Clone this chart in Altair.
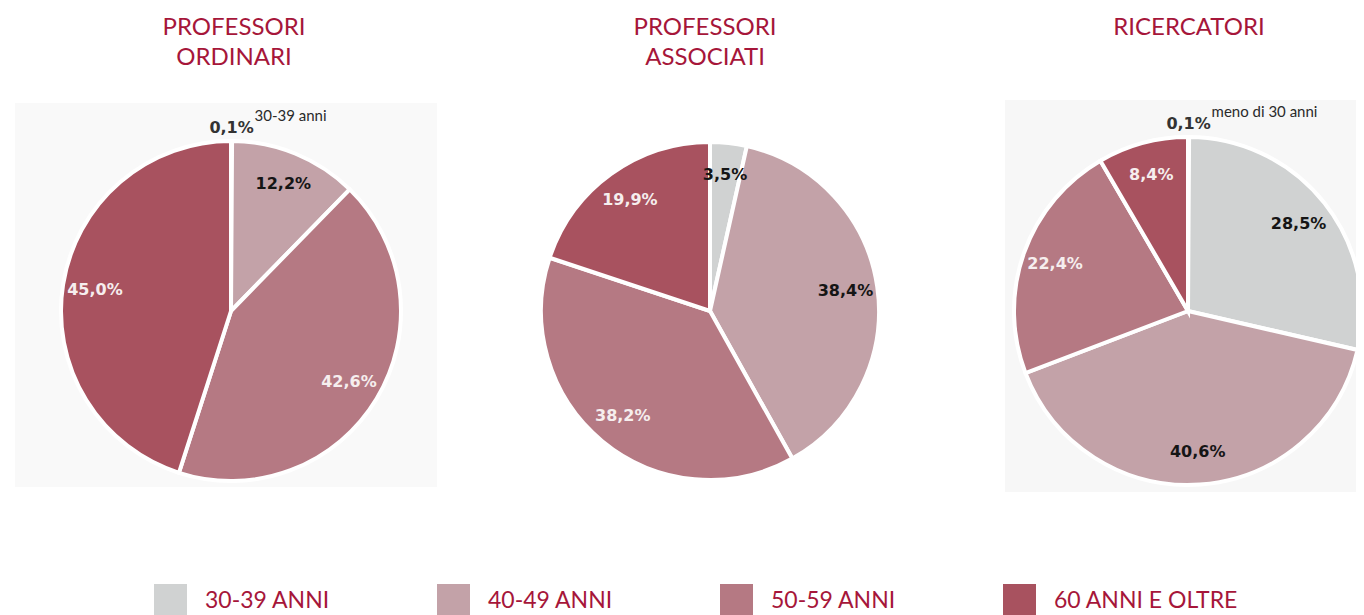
import altair as alt
import pandas as pd

# ---- data ----
categorie = ["meno di 30 anni", "30-39 ANNI", "40-49 ANNI", "50-59 ANNI", "60 ANNI E OLTRE"]
colori = ["#d0d2d2", "#d0d2d2", "#c3a2a8", "#b57983", "#a8525f"]
ordinari = [None, 0.1, 12.2, 42.6, 45.0]
associati = [None, 3.5, 38.4, 38.2, 19.9]
ricercatori = [0.1, 28.5, 40.6, 22.4, 8.4]
titoli = ["PROFESSORI\nORDINARI", "PROFESSORI\nASSOCIATI", "RICERCATORI"]

ROSSO = "#a6163a"

color_scale = alt.Scale(domain=categorie, range=colori)
legenda = alt.Legend(
    orient="none", legendX=146, legendY=576, direction="horizontal", columns=4,
    title=None, symbolType="square", symbolSize=1089, symbolStrokeWidth=0,
    symbolOpacity=1, labelFont="Lato", labelFontSize=23, labelColor=ROSSO,
    labelOffset=18, columnPadding=107, padding=0, values=categorie[1:],
    labelLimit=400,
)


def torta(valori, titolo, cx, cy, r, tx, ty):
    df = pd.DataFrame({"categoria": categorie, "valore": valori, "ordine": list(range(len(categorie)))})
    df = df.dropna().reset_index(drop=True)
    base = alt.Chart(df).transform_calculate(
        etichetta="replace(format(datum.valore, '.1f'), '.', ',') + '%'"
    ).transform_calculate(
        interna="datum.valore >= 1 ? datum.etichetta : ''",
        esterna="datum.valore < 1 ? datum.etichetta : ''",
        nota="datum.valore < 1 ? lower(datum.categoria) : ''",
    ).encode(
        theta=alt.Theta("valore:Q", stack=True),
        order=alt.Order("ordine:Q"),
        x=alt.value(cx),
        y=alt.value(cy),
    )
    arco = base.mark_arc(outerRadius=r, stroke="white", strokeWidth=4).encode(
        color=alt.Color("categoria:N", scale=color_scale, legend=legenda)
    )
    interne = base.mark_text(radius=0.81 * r, font="DejaVu Sans", fontWeight="bold", fontSize=16).encode(
        text="interna:N",
        color=alt.condition("datum.ordine >= 3", alt.value("#f6eeee"), alt.value("#151515")),
    )
    esterne = base.mark_text(radius=r + 13, font="DejaVu Sans", fontWeight="bold", fontSize=16,
                             color="#333333").encode(text="esterna:N")
    note = base.mark_text(radius=r + 13, font="Lato", fontSize=15, color="#2a2a2a",
                          align="left", dx=23, dy=-12).encode(text="nota:N")
    titolo_c = alt.Chart(pd.DataFrame({"titolo": [titolo]})).mark_text(
        font="Lato", fontSize=24, color=ROSSO, lineBreak="\n", lineHeight=30,
        baseline="middle", align="center",
    ).encode(text="titolo:N", x=alt.value(tx), y=alt.value(ty))
    return alt.layer(arco, interne, esterne, note, titolo_c)


sfondo = alt.Chart(pd.DataFrame({"p": [0]}))
bg1 = sfondo.mark_rect(color="#f9f9f9").encode(
    x=alt.value(7), x2=alt.value(429), y=alt.value(95), y2=alt.value(479))
bg3 = sfondo.mark_rect(color="#f7f7f7").encode(
    x=alt.value(997), x2=alt.value(1356), y=alt.value(92), y2=alt.value(484))

p1 = torta(ordinari, titoli[0], 223, 303, 170, 226, 20)
p2 = torta(associati, titoli[1], 702, 303, 169, 697, 20)
p3 = torta(ricercatori, titoli[2], 1180, 303, 174, 1181, 20)

chart = alt.layer(bg1, bg3, p1, p2, p3).resolve_scale(theta="independent").properties(
    width=1348, height=607, autosize="none", padding=0
).configure_view(strokeWidth=0)

chart.save("out.html", embed_options={"renderer": "svg", "actions": False})
